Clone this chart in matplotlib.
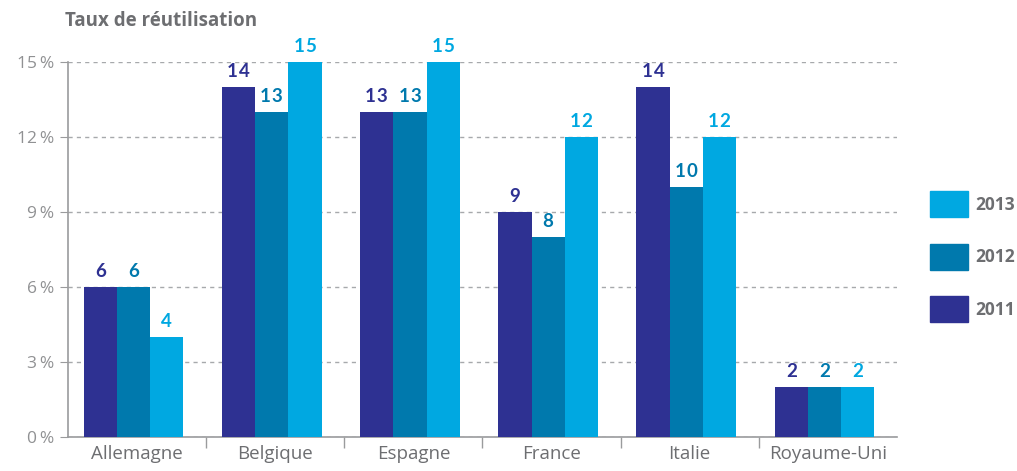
import numpy as np
import matplotlib
matplotlib.use("Agg")
import matplotlib.pyplot as plt
from matplotlib.patches import Patch

# data
pays = ["Allemagne", "Belgique", "Espagne", "France", "Italie", "Royaume-Uni"]
v2011 = [6, 14, 13, 9, 14, 2]
v2012 = [6, 13, 13, 8, 10, 2]
v2013 = [4, 15, 15, 12, 12, 2]
annees = ["2011", "2012", "2013"]
yticks = [0, 3, 6, 9, 12, 15]

couleurs = ["#2E3192", "#0079AD", "#00A8E1"]
gris = "#6D6E71"

plt.rcParams['font.family'] = ['Open Sans', 'DejaVu Sans']

fig = plt.figure(figsize=(10.17, 4.71), dpi=100)
ax = fig.add_axes([0.0669, 0.0722, 0.815, 0.796])

ind = np.arange(len(pays))
width = 0.24
series = [v2011, v2012, v2013]
for k, vals in enumerate(series):
    xs = ind + (k - 1) * width - 0.025
    ax.bar(xs, vals, width, color=couleurs[k], label=annees[k], zorder=3)
    for x, v in zip(xs, vals):
        # chiffres legerement espaces comme sur l'original
        ax.text(x, v + 0.3, "\u200a".join(str(v)), ha='center', va='bottom',
                fontsize=13.5, fontweight='bold', color=couleurs[k],
                family=['Lato', 'DejaVu Sans'])

ax.set_xlim(-0.5, len(pays) - 0.5)
ax.set_ylim(0, 15)
ax.set_yticks(yticks)
ax.set_yticklabels([f"{t}\u2009%" for t in yticks], fontsize=12.5,
                   color="#909193")
ax.set_xticks(ind)
ax.set_xticklabels(pays, fontsize=13.5, color=gris)
ax.set_xticks(np.arange(0.5, len(pays) - 0.5, 1), minor=True)
ax.tick_params(axis='x', which='major', length=0, pad=6)
ax.tick_params(axis='x', which='minor', length=8, color="#9A9B9D", width=1)
ax.tick_params(axis='y', length=6, color="#9A9B9D", pad=4)

ax.grid(axis='y', linestyle=(0, (3, 3)), color="#A7A9AC", linewidth=1, zorder=0)
for s in ['top', 'right']:
    ax.spines[s].set_visible(False)
for s in ['left', 'bottom']:
    ax.spines[s].set_color("#9A9B9D")
    ax.spines[s].set_linewidth(1.2)

fig.text(0.064, 0.955, "Taux de réutilisation", fontsize=13.5,
         fontweight='bold', color=gris, ha='left', va='center')

handles = [Patch(color=couleurs[k]) for k in (2, 1, 0)]
labels = [annees[k] for k in (2, 1, 0)]
leg = fig.legend(handles, labels, loc='center left',
                 bbox_to_anchor=(0.914, 0.455), frameon=False,
                 handlelength=2.2, handleheight=1.9, labelspacing=1.55,
                 handletextpad=0.45, borderaxespad=0, borderpad=0,
                 prop={'size': 12.5, 'weight': 'bold'})
for t in leg.get_texts():
    t.set_color(gris)

fig.savefig("out.png", dpi=100)
